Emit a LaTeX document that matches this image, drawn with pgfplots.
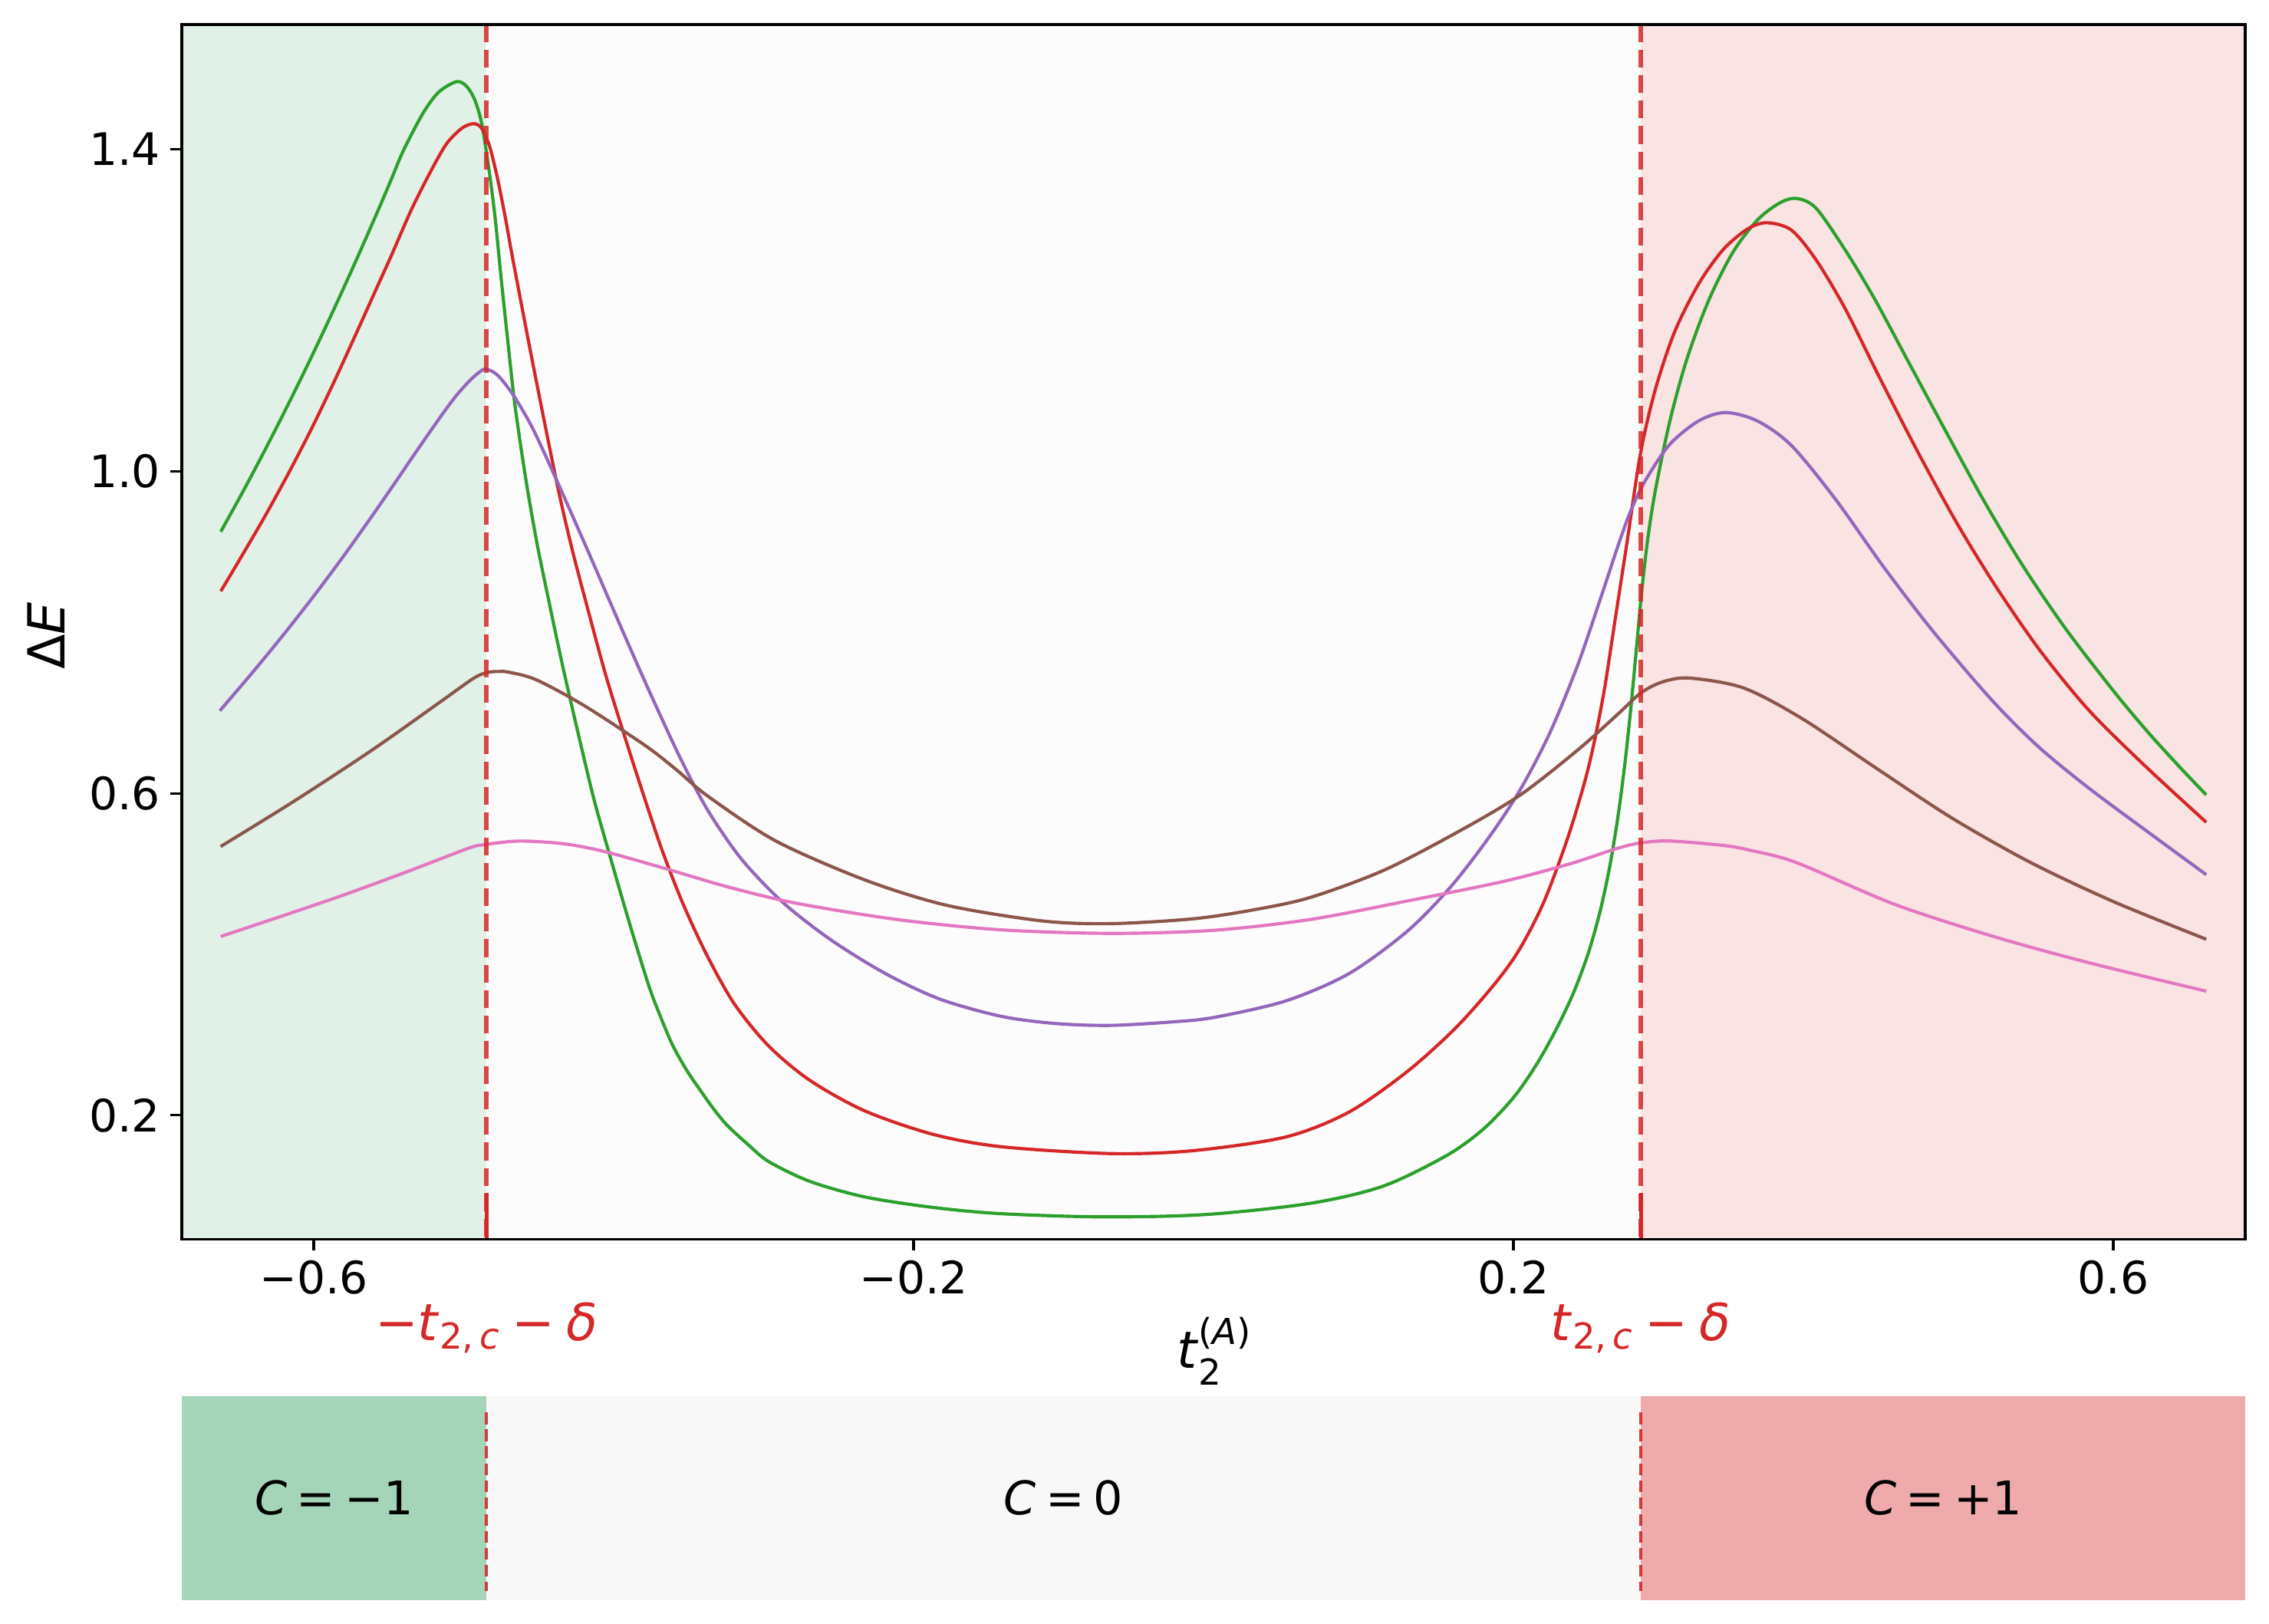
\documentclass[border=0pt]{standalone}
\usepackage{fontspec}
\setmainfont{DejaVu Sans}
\usepackage{amsmath}
\usepackage{pgfplots}
\pgfplotsset{compat=1.18}
\definecolor{tgreen}{HTML}{2CA02C}
\definecolor{tred}{HTML}{D62728}
\definecolor{tpurple}{HTML}{9467BD}
\definecolor{tbrown}{HTML}{8C564B}
\definecolor{tpink}{HTML}{E377C2}
\definecolor{bgL}{HTML}{E1F1E7}
\definecolor{bgM}{HTML}{FCFCFC}
\definecolor{bgR}{HTML}{F9E3E3}
\definecolor{pL}{HTML}{A5D5B8}
\definecolor{pM}{HTML}{F8F8F8}
\definecolor{pR}{HTML}{EFABAB}
\newcommand{\fs}[1]{\fontsize{#1}{#1}\selectfont}
\begin{document}
\begin{tikzpicture}
\path[use as bounding box] (-56.88pt,-120.36pt) rectangle (653.04pt,387.72pt);
\begin{axis}[
  at={(0pt,0pt)}, anchor=south west,
  scale only axis, width=645.6pt, height=380.04pt,
  xmin=-0.688, xmax=0.688, ymin=0.046, ymax=1.555,
  axis on top, clip=false,
  axis line style={line width=0.75pt},
  xtick={-0.6,-0.2,0.2,0.6}, xticklabels={−0.6,−0.2,0.2,0.6},
  ytick={0.2,0.6,1.0,1.4}, yticklabels={0.2,0.6,1.0,1.4},
  tick align=outside, major tick length=3.5pt,
  every tick/.style={black, line width=0.75pt},
  xtick pos=bottom, ytick pos=left,
  ticklabel style={font=\fs{14}},
  xticklabel style={inner sep=0pt, anchor=north, yshift=-3pt},
  yticklabel style={inner sep=0pt, anchor=east, xshift=-3pt},
]
\fill[bgL] (axis cs:-0.688,0.046) rectangle (axis cs:-0.4849,1.555);
\fill[bgM] (axis cs:-0.4849,0.046) rectangle (axis cs:0.2849,1.555);
\fill[bgR] (axis cs:0.2849,0.046) rectangle (axis cs:0.688,1.555);

\addplot[tgreen, line width=1.0pt, smooth, tension=0.5] coordinates {
(-0.662,0.925) (-0.647,0.9756) (-0.632,1.0284) (-0.617,1.0833) (-0.602,1.1403)
(-0.587,1.1996) (-0.572,1.261) (-0.557,1.3246) (-0.548,1.364) (-0.5401,1.399)
(-0.5271,1.445) (-0.5167,1.471) (-0.5049,1.484) (-0.4985,1.479) (-0.4930,1.463)
(-0.4880,1.432) (-0.4828,1.370) (-0.4789,1.312) (-0.4750,1.239) (-0.4705,1.160)
(-0.4659,1.083) (-0.4590,0.995) (-0.4516,0.915) (-0.4437,0.843) (-0.4340,0.758)
(-0.4220,0.661) (-0.4128,0.590) (-0.4037,0.530) (-0.3900,0.442) (-0.3764,0.360)
(-0.3680,0.319) (-0.3604,0.286) (-0.3510,0.255) (-0.3422,0.231) (-0.3330,0.207)
(-0.3240,0.187) (-0.3100,0.163) (-0.2966,0.1425) (-0.2693,0.118)
(-0.2328,0.0987) (-0.1873,0.0856) (-0.1417,0.0778) (-0.0733,0.0738) (-0.005,0.0768)
(0.0643,0.0906) (0.1131,0.112) (0.1554,0.150) (0.1800,0.183) (0.2000,0.222)
(0.2150,0.262) (0.2280,0.305) (0.2400,0.352) (0.2500,0.402) (0.2580,0.455)
(0.2645,0.512) (0.2700,0.575) (0.2745,0.640) (0.2785,0.710) (0.2820,0.780)
(0.2855,0.850) (0.2895,0.915) (0.2945,0.975) (0.3040,1.060) (0.3154,1.138)
(0.3301,1.212) (0.3463,1.272) (0.3626,1.312) (0.3772,1.333) (0.3886,1.339)
(0.4017,1.327) (0.4212,1.275) (0.4407,1.2146) (0.4635,1.1356) (0.4863,1.0566)
(0.5123,0.968) (0.5384,0.8864) (0.5676,0.806) (0.6002,0.727) (0.6231,0.676)
(0.6441,0.633) (0.662,0.598)
};
\addplot[tred, line width=1.0pt, smooth, tension=0.5] coordinates {
(-0.662,0.851) (-0.647,0.898) (-0.632,0.946) (-0.617,0.997) (-0.602,1.051)
(-0.587,1.109) (-0.572,1.170) (-0.557,1.232) (-0.5479,1.2695) (-0.5349,1.325)
(-0.5219,1.373) (-0.5114,1.407) (-0.5010,1.4265) (-0.4932,1.4318) (-0.488,1.426)
(-0.4828,1.404) (-0.4776,1.365) (-0.4724,1.3166) (-0.4672,1.263) (-0.4542,1.1367)
(-0.4385,0.9909) (-0.4281,0.906) (-0.4177,0.832) (-0.4050,0.745) (-0.3900,0.655)
(-0.3787,0.590) (-0.3672,0.5266) (-0.3536,0.4620) (-0.3376,0.3980) (-0.3194,0.3380)
(-0.2966,0.2860) (-0.2692,0.2435) (-0.2328,0.2057) (-0.1873,0.1765) (-0.1417,0.1610)
(-0.0688,0.1525) (-0.0141,0.1560) (0.048,0.1730) (0.0903,0.2040) (0.1294,0.2547)
(0.1619,0.3094) (0.1879,0.3642) (0.2042,0.4067) (0.2205,0.4660) (0.2368,0.548)
(0.2500,0.632) (0.2598,0.720) (0.2680,0.818) (0.2760,0.915) (0.2845,1.020)
(0.2942,1.099) (0.3072,1.172) (0.3235,1.2328) (0.3398,1.2753) (0.356,1.3009)
(0.369,1.3088) (0.3853,1.2997) (0.4016,1.2632) (0.4211,1.2024) (0.4439,1.1173)
(0.4699,1.0232) (0.4959,0.935) (0.522,0.856) (0.5513,0.777) (0.5838,0.703)
(0.6212,0.634) (0.662,0.564)
};
\addplot[tpurple, line width=1.0pt, smooth, tension=0.5] coordinates {
(-0.6626,0.7026) (-0.640,0.7520) (-0.620,0.7975) (-0.600,0.8450) (-0.580,0.8950)
(-0.560,0.9475) (-0.545,0.9880) (-0.530,1.0290) (-0.515,1.0690) (-0.505,1.0940)
(-0.4958,1.1130) (-0.4900,1.1225) (-0.4854,1.1270) (-0.4776,1.1197) (-0.4672,1.0954)
(-0.4542,1.0540) (-0.4385,0.9909) (-0.4177,0.9033) (-0.4021,0.8363) (-0.3870,0.7718)
(-0.3741,0.7180) (-0.3559,0.6450) (-0.3376,0.5800) (-0.3149,0.5185) (-0.2875,0.4650)
(-0.2556,0.4185) (-0.2192,0.3765) (-0.1827,0.3445) (-0.1417,0.3230) (-0.1052,0.3140)
(-0.0688,0.3117) (-0.0278,0.3160) (0.0,0.3215) (0.048,0.3420) (0.0903,0.3760)
(0.1294,0.4290) (0.1587,0.4850) (0.1847,0.5480) (0.2050,0.6060) (0.2245,0.6760)
(0.2430,0.7600) (0.2595,0.8500) (0.2700,0.9090) (0.2780,0.9500) (0.2878,0.9880)
(0.3040,1.0330) (0.3235,1.0626) (0.3414,1.0730) (0.3626,1.0626) (0.3854,1.0320)
(0.4147,0.9654) (0.4472,0.8803) (0.4798,0.8013) (0.5188,0.7162) (0.5500,0.6580)
(0.5840,0.6060) (0.6263,0.5476) (0.662,0.4989)
};
\addplot[tbrown, line width=1.0pt, smooth, tension=0.5] coordinates {
(-0.6621,0.5339) (-0.6133,0.5900) (-0.5609,0.6540) (-0.5153,0.7140) (-0.4950,0.7410)
(-0.4880,0.7480) (-0.4820,0.7508) (-0.4766,0.7513) (-0.4700,0.7505) (-0.4516,0.7410)
(-0.4197,0.7090) (-0.3787,0.6590) (-0.3580,0.6290) (-0.3376,0.5970) (-0.2921,0.5410)
(-0.2328,0.4926) (-0.1782,0.4610) (-0.1144,0.4415) (-0.0688,0.4381) (-0.0141,0.4440)
(0.0260,0.4550) (0.0643,0.4705) (0.1131,0.5040) (0.1619,0.5510) (0.2042,0.5975)
(0.2433,0.6545) (0.2700,0.6990) (0.2845,0.7240) (0.2986,0.7379) (0.3170,0.7432)
(0.3534,0.7309) (0.3924,0.6929) (0.4425,0.6305) (0.4928,0.5688) (0.5449,0.5140)
(0.6002,0.4654) (0.662,0.4187)
};
\addplot[tpink, line width=1.0pt, smooth, tension=0.5] coordinates {
(-0.6621,0.4221) (-0.5883,0.4683) (-0.5382,0.5023) (-0.4972,0.5315) (-0.4857,0.5363)
(-0.4629,0.5407) (-0.4333,0.5373) (-0.4060,0.5276) (-0.3650,0.5062) (-0.3240,0.4838)
(-0.2784,0.4635) (-0.2101,0.4430) (-0.1417,0.4304) (-0.0688,0.4260) (0.0,0.4298)
(0.0643,0.4432) (0.1294,0.4663) (0.1940,0.4908) (0.2380,0.5126) (0.2682,0.5310)
(0.2845,0.5383) (0.3040,0.5408) (0.3398,0.5353) (0.3572,0.5295) (0.3886,0.5140)
(0.4537,0.4624) (0.5188,0.4229) (0.5838,0.3895) (0.662,0.3542)
};

\draw[tred, opacity=0.85, line width=1.5pt, dash pattern=on 5.55pt off 2.4pt] (axis cs:-0.4849,1.555) -- (axis cs:-0.4849,0.046);
\draw[tred, opacity=0.85, line width=1.5pt, dash pattern=on 5.55pt off 2.4pt] (axis cs:0.2849,1.555) -- (axis cs:0.2849,0.046);
\draw[tred, line width=1.2pt] (axis cs:-0.4849,0.046) -- (axis cs:-0.4849,0.104);
\draw[tred, line width=1.2pt] (axis cs:0.2849,0.046) -- (axis cs:0.2849,0.104);

\node[anchor=base, text=tred, font=\fs{16}, inner sep=0pt] at (axis cs:-0.4849,0.046) [yshift=-31.7pt]
  {−\textit{t}$_{\text{2,\,\textit{c}}}$\hspace{0.22em}−\hspace{0.22em}\textit{δ}};
\node[anchor=base, text=tred, font=\fs{16}, inner sep=0pt] at (axis cs:0.2849,0.046) [yshift=-31.7pt]
  {\textit{t}$_{\text{2,\,\textit{c}}}$\hspace{0.22em}−\hspace{0.22em}\textit{δ}};
\end{axis}

\node[rotate=90, font=\fs{16}, inner sep=0pt] at (-42.5pt,188.8pt) {Δ\textit{E}};
\node[anchor=base, font=\fs{16}, inner sep=0pt] at (323.2pt,-40.4pt) {\textit{t}$_{\text{2}}^{\text{(\textit{A})}}$};

\begin{axis}[
  at={(0pt,-112.92pt)}, anchor=south west,
  scale only axis, width=645.6pt, height=63.84pt,
  xmin=-0.688, xmax=0.688, ymin=0, ymax=1,
  hide axis, clip=false,
]
\fill[pL] (axis cs:-0.688,0) rectangle (axis cs:-0.4849,1);
\fill[pM] (axis cs:-0.4849,0) rectangle (axis cs:0.2849,1);
\fill[pR] (axis cs:0.2849,0) rectangle (axis cs:0.688,1);
\draw[tred, opacity=0.9, line width=1pt, dash pattern=on 3.7pt off 1.6pt] (axis cs:-0.4849,0.92) -- (axis cs:-0.4849,0.045);
\draw[tred, opacity=0.9, line width=1pt, dash pattern=on 3.7pt off 1.6pt] (axis cs:0.2849,0.92) -- (axis cs:0.2849,0.045);
\node[font=\fs{14.5}] at (axis cs:-0.5865,0.5) {\textit{C}\hspace{0.2em}=\hspace{0.2em}−1};
\node[font=\fs{14.5}] at (axis cs:-0.1,0.5) {\textit{C}\hspace{0.2em}=\hspace{0.2em}0};
\node[font=\fs{14.5}] at (axis cs:0.4865,0.5) {\textit{C}\hspace{0.2em}=\hspace{0.2em}+1};
\end{axis}
\end{tikzpicture}
\end{document}
